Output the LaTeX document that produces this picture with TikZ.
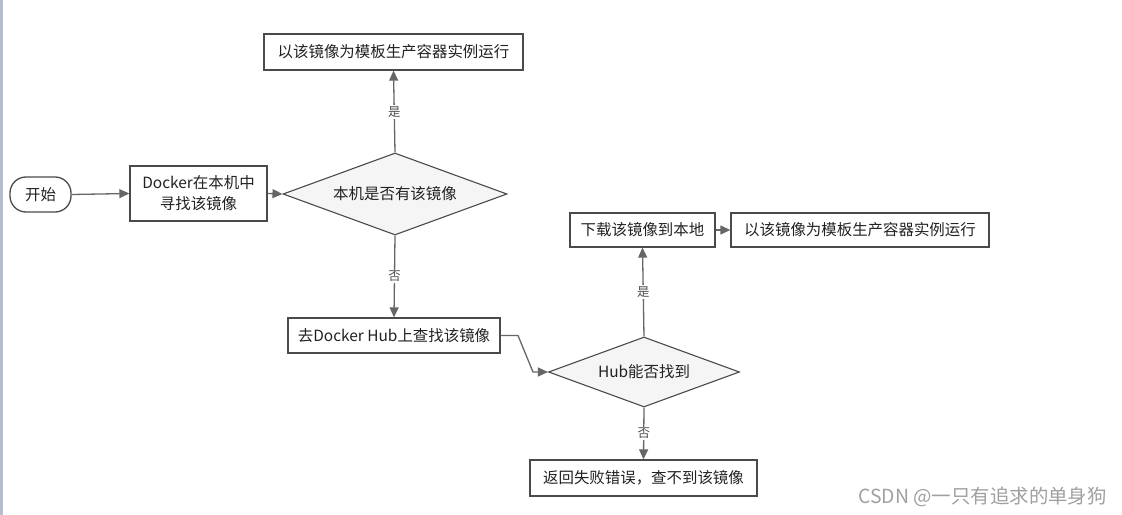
\documentclass[tikz,border=0pt]{standalone}
\usepackage{fontspec}
\setmainfont{Noto Sans CJK SC}
\usetikzlibrary{arrows.meta,shapes.geometric}
\definecolor{linec}{HTML}{666666}
\definecolor{boxc}{HTML}{4A4A4A}
\definecolor{txt}{HTML}{222222}
\definecolor{dfill}{HTML}{F5F5F5}
\definecolor{bar}{HTML}{B5BDCC}
\definecolor{wm}{HTML}{A0A0A0}
\begin{document}
\begin{tikzpicture}[x=1bp,y=-1bp,
  box/.style={draw=boxc, line width=1.3bp, fill=white, inner sep=0pt, text=txt,
    font=\fontsize{15.5}{21}\selectfont, align=center},
  dia/.style={diamond, draw=boxc, line width=1.1bp, fill=dfill, inner sep=0pt, text=txt,
    font=\fontsize{15.5}{19}\selectfont, shape aspect=2.7},
  term/.style={draw=boxc, line width=1.3bp, fill=white, rounded corners=16bp, inner sep=0pt,
    text=txt, font=\fontsize{15.5}{19}\selectfont},
  arr/.style={draw=linec, line width=1.3bp, -{Triangle[length=10bp,width=9bp]}},
  lbl/.style={fill=white, text=txt!80, inner sep=1.5bp, font=\fontsize{12.5}{14}\selectfont}]
\useasboundingbox (0,0) rectangle (1122,515);
\fill[white] (0,0) rectangle (1122,515);
\fill[bar] (0,0) rectangle (3,515);

\node[term, minimum width=61bp, minimum height=35bp] (start) at (40.5,194.5) {开始};
\node[box, minimum width=137bp, minimum height=55bp] (find) at (198.5,193.5) {Docker在本机中\\寻找该镜像};
\node[dia, minimum width=224bp, minimum height=82bp] (d1) at (395,194) {本机是否有该镜像};
\node[box, minimum width=259bp, minimum height=36bp] (run1) at (393.5,52) {以该镜像为模板生产容器实例运行};
\node[box, minimum width=212bp, minimum height=35bp] (hub) at (394,335.5) {去Docker Hub上查找该镜像};
\node[dia, minimum width=191bp, minimum height=70bp] (d2) at (644,372) {Hub能否找到};
\node[box, minimum width=145bp, minimum height=34bp] (pull) at (642.5,230) {下载该镜像到本地};
\node[box, minimum width=258bp, minimum height=34bp] (run2) at (860,230) {以该镜像为模板生产容器实例运行};
\node[box, minimum width=227bp, minimum height=36bp] (fail) at (643.5,478) {返回失败错误，查不到该镜像};

\coordinate (h1) at (518,335.5);
\coordinate (h2) at (533,372);

\draw[arr] (start.east) -- (find.west);
\draw[arr] (find.east) -- (d1.west);
\draw[arr] (d1.north) -- node[lbl]{是} (run1.south);
\draw[arr] (d1.south) -- node[lbl]{否} (hub.north);
\draw[arr] (hub.east) -- (h1) -- (h2) -- (d2.west);
\draw[arr] (d2.north) -- node[lbl]{是} (pull.south);
\draw[arr] (pull.east) -- (run2.west);
\draw[arr] (d2.south) -- node[lbl]{否} (fail.north);

\node[text=wm, font=\fontsize{19.5}{22}\selectfont, anchor=east, inner sep=0pt] (mark) at (1107,497) {CSDN @一只有追求的单身狗};
\end{tikzpicture}
\end{document}
